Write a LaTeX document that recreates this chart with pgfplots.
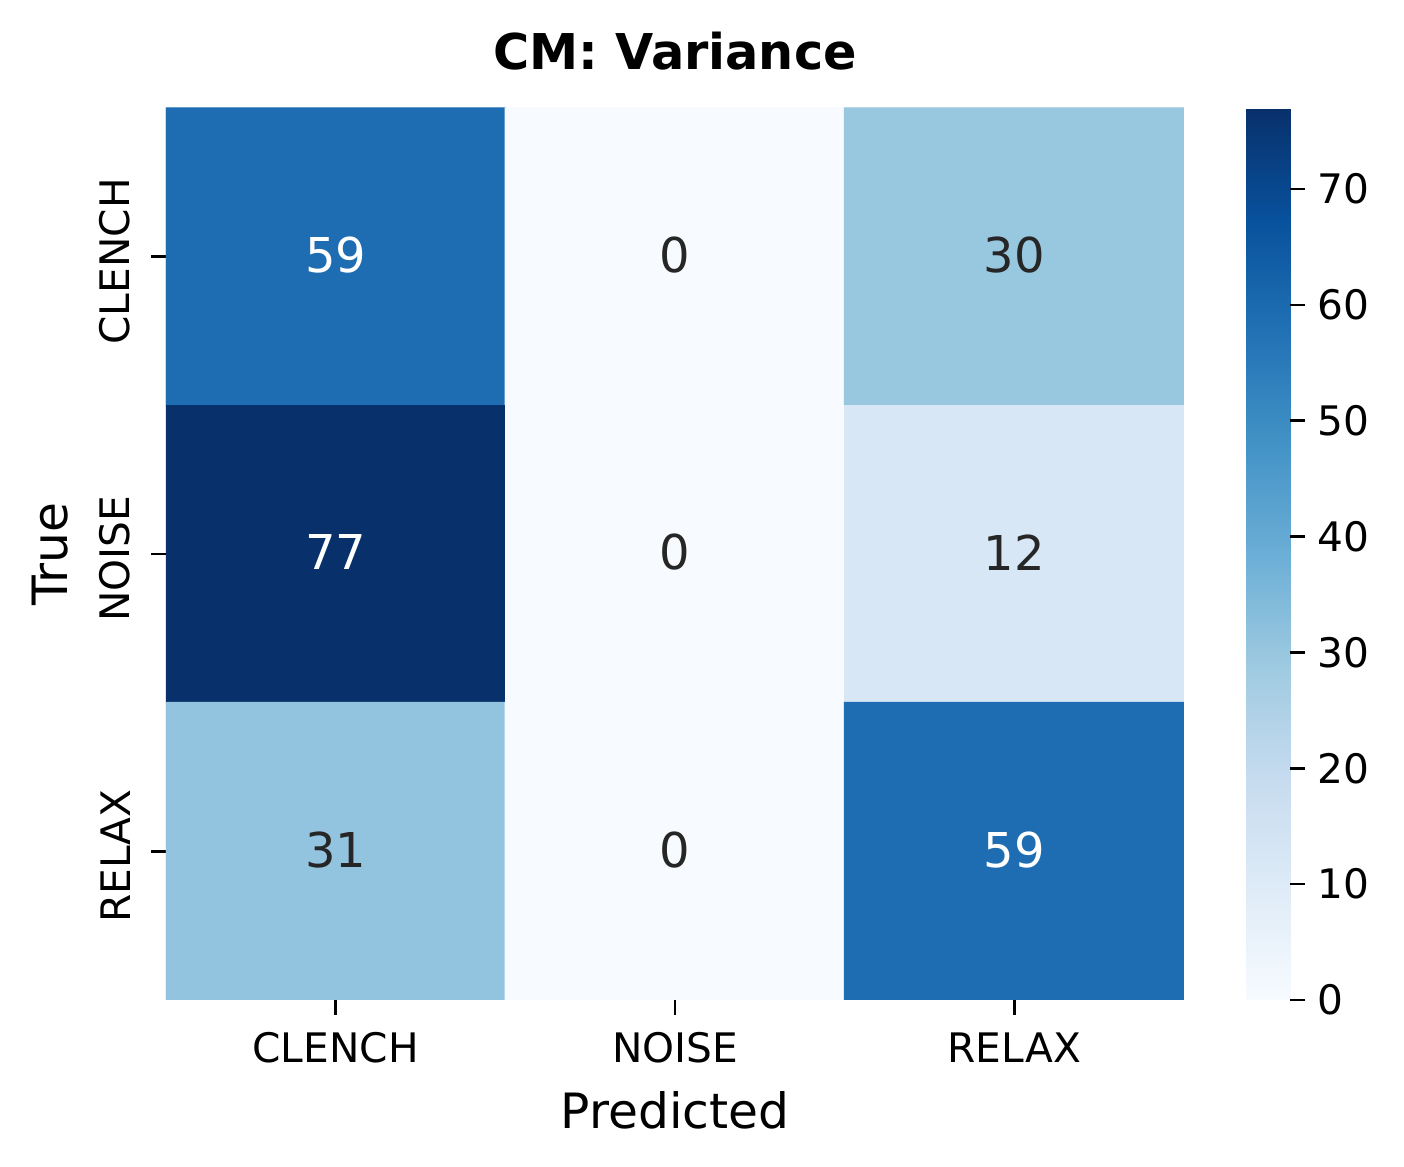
\documentclass[border=0pt]{standalone}
\usepackage{pgfplots}
\pgfplotsset{compat=1.18}
\usepackage{fontspec}
\setmainfont{DejaVu Sans}
\definecolor{darktxt}{RGB}{38,38,38}
\pgfplotsset{
  /pgf/number format/assume math mode=true,
  colormap={blues}{rgb255=(247,251,255) rgb255=(222,235,247) rgb255=(198,219,239) rgb255=(158,202,225) rgb255=(107,174,214) rgb255=(66,146,198) rgb255=(33,113,181) rgb255=(8,81,156) rgb255=(8,48,107)}
}
\pgfplotstableread{
x y c
0 0 59
1 0 0
2 0 30
0 1 77
1 1 0
2 1 12
0 2 31
1 2 0
2 2 59
}\cmdata
\pgfplotstableread{
x y c
0 0 59
0 1 77
2 2 59
}\lighttext
\pgfplotstableread{
x y c
1 0 0
2 0 30
1 1 0
2 1 12
0 2 31
1 2 0
}\darktext
\begin{document}
\begin{tikzpicture}
\useasboundingbox (0,0) rectangle (421.2pt,350.1pt);
\begin{axis}[
  at={(49.8pt,50.1pt)}, anchor=south west,
  scale only axis, width=305.4pt, height=267.6pt,
  xmin=-0.5, xmax=2.5, ymin=-0.5, ymax=2.5,
  y dir=reverse,
  axis line style={draw=none},
  xtick={0,1,2}, ytick={0,1,2},
  xticklabels={CLENCH,NOISE,RELAX},
  yticklabels={CLENCH,NOISE,RELAX},
  xtick pos=bottom, ytick pos=left,
  tick align=outside,
  major tick length=4.5pt,
  tick style={black, line width=0.75pt},
  ticklabel style={font=\fontsize{12.2}{14}\selectfont},
  xticklabel style={yshift=-1.8pt},
  yticklabel style={xshift=-2.7pt, yshift=-1.4pt, rotate=90, anchor=south},
  colormap name=blues,
  point meta min=0, point meta max=77,
  colorbar,
  colorbar style={
    at={(parent axis.north east)}, anchor=north west, xshift=10.2pt,
    width=13.2pt,
    axis line style={draw=none},
    ytick={0,10,...,70},
    ytick pos=right, tick align=outside,
    major tick length=4.5pt,
    tick style={black, line width=0.75pt},
    yticklabel style={font=\fontsize{12.2}{14}\selectfont},
  },
  title={\bfseries CM: Variance},
  title style={font=\fontsize{14.8}{17}\selectfont, at={(0.5,1)}, anchor=center, yshift=11.1pt},
  xlabel={Predicted},
  xlabel style={font=\fontsize{14.6}{17}\selectfont, at={(0.5,0)}, anchor=center, yshift=-33pt},
  ylabel={True},
  ylabel style={font=\fontsize{14.6}{17}\selectfont, at={(axis description cs:-0.114,0.5)}, anchor=center},
]
\addplot[matrix plot*, mesh/cols=3, point meta=explicit] table[meta=c] {\cmdata};
\addplot[draw=none, mark=none, nodes near coords, point meta=explicit symbolic,
  nodes near coords align=center,
  every node near coord/.append style={white, anchor=center, yshift=0.5pt, font=\fontsize{14.4}{17}\selectfont}]
  table[meta=c] {\lighttext};
\addplot[draw=none, mark=none, nodes near coords, point meta=explicit symbolic,
  nodes near coords align=center,
  every node near coord/.append style={darktxt, anchor=center, yshift=0.5pt, font=\fontsize{14.4}{17}\selectfont}]
  table[meta=c] {\darktext};
\end{axis}
\end{tikzpicture}
\end{document}
